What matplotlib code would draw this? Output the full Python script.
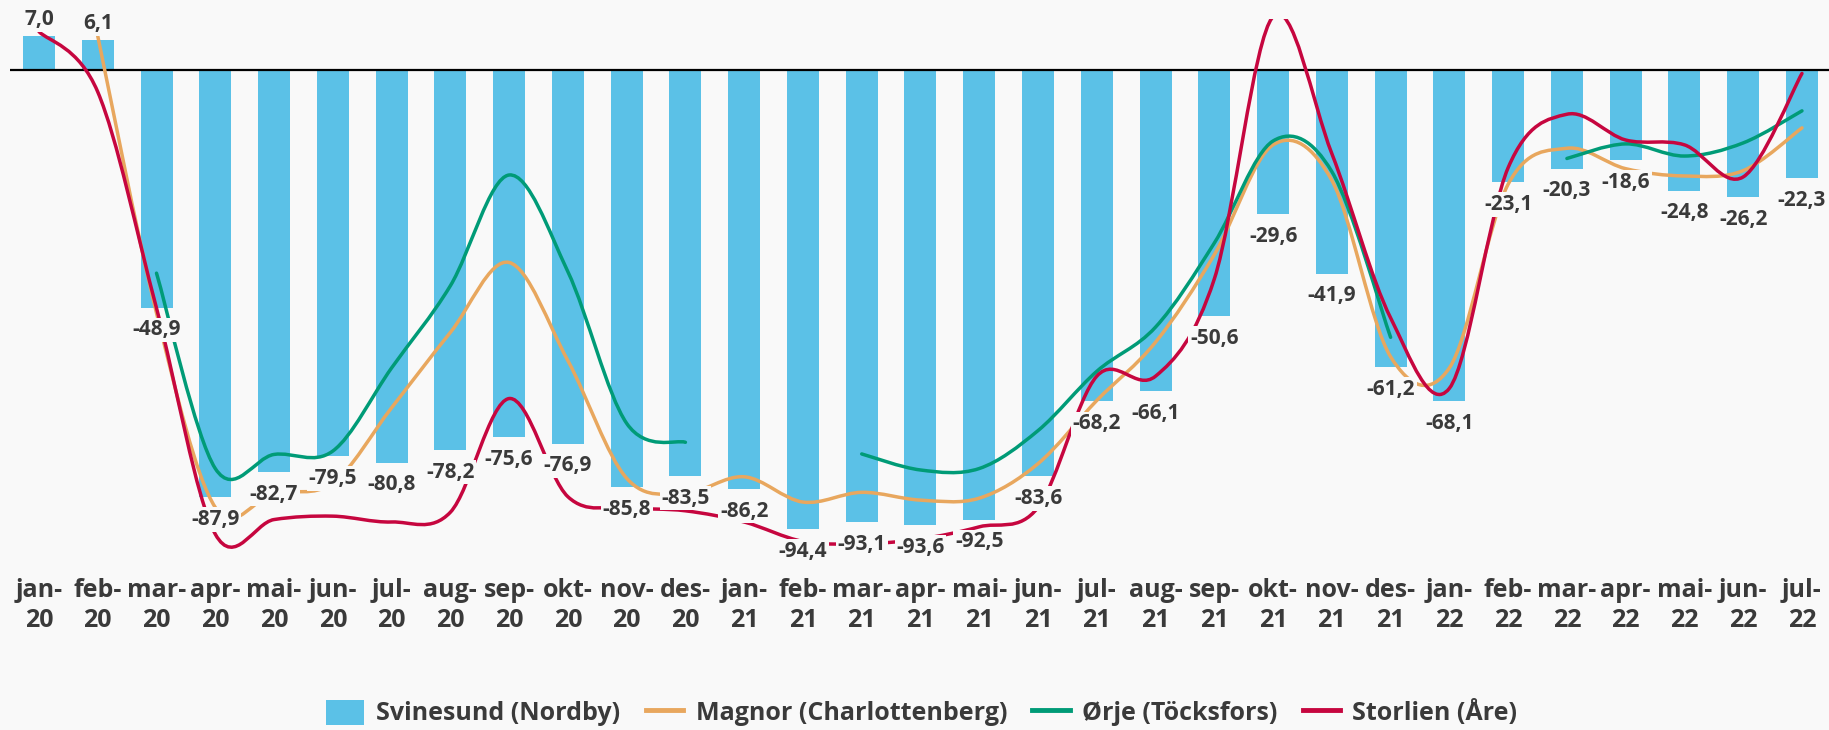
import numpy as np
import matplotlib
matplotlib.use("Agg")
import matplotlib.pyplot as plt
from matplotlib.path import Path
from matplotlib.patches import PathPatch, Patch
from matplotlib.lines import Line2D

nan = np.nan

months = ["jan", "feb", "mar", "apr", "mai", "jun", "jul", "aug", "sep", "okt", "nov", "des",
          "jan", "feb", "mar", "apr", "mai", "jun", "jul", "aug", "sep", "okt", "nov", "des",
          "jan", "feb", "mar", "apr", "mai", "jun", "jul"]
years = ["20"] * 12 + ["21"] * 12 + ["22"] * 7
tick_labels = [f"{m}-\n{y}" for m, y in zip(months, years)]

svinesund = [7.0, 6.1, -48.9, -87.9, -82.7, -79.5, -80.8, -78.2, -75.6, -76.9, -85.8, -83.5,
             -86.2, -94.4, -93.1, -93.6, -92.5, -83.6, -68.2, -66.1, -50.6, -29.6, -41.9, -61.2,
             -68.1, -23.1, -20.3, -18.6, -24.8, -26.2, -22.3]

magnor = [nan, 7.0, -50.0, -90.0, -87.0, -85.0, -69.5, -54.0, -39.6, -59.8, -84.0, -87.0,
          -83.7, -88.9, -86.9, -88.5, -88.1, -81.0, -68.0, -56.0, -38.0, -15.4, -22.7, -59.0,
          -61.3, -23.5, -16.1, -20.3, -21.8, -20.7, -11.9]

orje = [nan, nan, -41.8, -82.0, -79.1, -78.4, -61.3, -44.4, -21.6, -41.5, -72.7, -76.6,
        nan, nan, -79.0, -82.3, -82.0, -74.2, -62.0, -52.9, -35.6, -14.6, -20.9, -55.0,
        nan, nan, -18.2, -15.2, -17.7, -15.0, -8.4]

storlien = [7.9, -4.5, -49.0, -95.5, -92.5, -91.8, -93.0, -91.0, -67.6, -87.8, -90.0, -90.7,
            -93.0, -97.0, -97.5, -96.5, -94.0, -90.0, -63.0, -63.0, -43.0, 11.0, -17.2, -51.0,
            -65.5, -20.1, -9.1, -14.4, -15.4, -22.0, -0.7]

series_names = ["Svinesund (Nordby)", "Magnor (Charlottenberg)", "Ørje (Töcksfors)", "Storlien (Åre)"]

bg = "#F9F9F9"
c_bar = "#5BC1E7"
c_mag = "#E8A75E"
c_orj = "#009B77"
c_sto = "#C6063F"
txt = "#3A3A3A"
FONT = ["Open Sans", "DejaVu Sans"]

W, H = 1829, 730
fig = plt.figure(figsize=(W / 100, H / 100), dpi=100, facecolor=bg)
left = 9.6 / W
ax = fig.add_axes([left, (H - 556) / H, 1 - left, (556 - 19) / H])
ax.set_facecolor(bg)
n = len(svinesund)
x = np.arange(n)
ax.set_xlim(-0.5, 30.46)
ax.set_ylim(-100, 10.5)
for s in ax.spines.values():
    s.set_visible(False)
ax.set_yticks([])

ax.bar(x, svinesund, width=0.545, color=c_bar, zorder=2)
ax.axhline(0, color="black", lw=1.6, zorder=2.5)


def smooth_path(vals):
    vals = np.asarray(vals, dtype=float)
    verts, codes = [], []
    i = 0
    while i < len(vals):
        if np.isnan(vals[i]):
            i += 1
            continue
        j = i
        while j + 1 < len(vals) and not np.isnan(vals[j + 1]):
            j += 1
        pts = [np.array([k, vals[k]]) for k in range(i, j + 1)]
        m = len(pts)
        if m >= 2:
            verts.append(pts[0]); codes.append(Path.MOVETO)
            for k in range(m - 1):
                p0 = pts[k - 1] if k - 1 >= 0 else pts[k]
                p1 = pts[k]
                p2 = pts[k + 1]
                p3 = pts[k + 2] if k + 2 < m else pts[k + 1]
                c1 = p1 + (p2 - p0) / 6.0
                c2 = p2 - (p3 - p1) / 6.0
                verts += [c1, c2, p2]
                codes += [Path.CURVE4] * 3
        i = j + 1
    return Path(np.array(verts), codes)


for vals, col in [(magnor, c_mag), (orje, c_orj), (storlien, c_sto)]:
    pp = PathPatch(smooth_path(vals), facecolor="none", edgecolor=col, lw=2.5,
                   capstyle="round", joinstyle="round", zorder=3)
    ax.add_patch(pp)

for xi, v in zip(x, svinesund):
    off = 12 if v >= 0 else -16
    lab = f"{v:.1f}".replace(".", ",")
    ax.annotate(lab, (xi, v), xytext=(0, off), textcoords="offset points",
                ha="center", va="center", fontsize=15, fontweight="bold", color=txt,
                family=FONT, zorder=5,
                bbox=dict(boxstyle="square,pad=0.08", facecolor=bg, edgecolor="none"))

ax.set_xticks(x)
ax.set_xticklabels(tick_labels, fontsize=18, fontweight="bold", color=txt, family=FONT,
                   linespacing=1.25)
ax.tick_params(axis="x", length=0, pad=16)

handles = [Patch(facecolor=c_bar, edgecolor="none"),
           Line2D([], [], color=c_mag, lw=3.5),
           Line2D([], [], color=c_orj, lw=3.5),
           Line2D([], [], color=c_sto, lw=3.5)]
fig.legend(handles, series_names, loc="center", bbox_to_anchor=(922 / W, 1 - 713 / H),
           ncol=4, frameon=False, prop=dict(family=FONT, weight="bold", size=18),
           labelcolor=txt, handlelength=1.5, handleheight=1.16, handletextpad=0.5,
           columnspacing=1.0)

fig.savefig("out.png", dpi=100, facecolor=bg)
